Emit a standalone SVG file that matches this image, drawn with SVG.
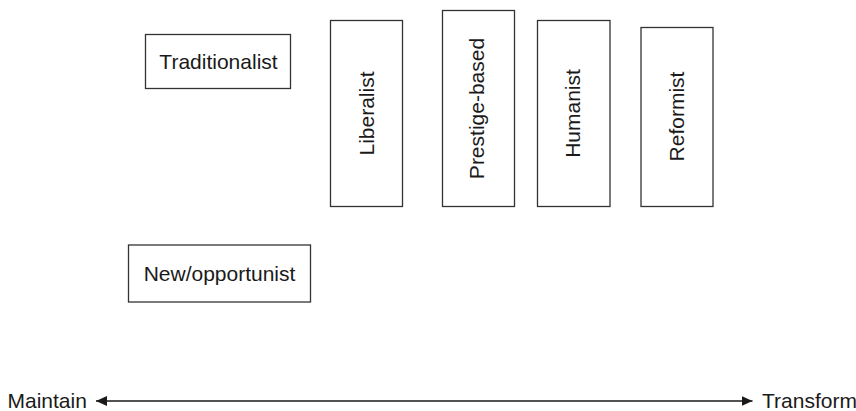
<svg xmlns="http://www.w3.org/2000/svg" width="856" height="411" viewBox="0 0 856 411">
  <style>
    .box { fill: #ffffff; stroke: #333333; stroke-width: 1.3; }
    .lbl { font-family: "Liberation Sans", Arial, sans-serif; font-size: 21px; fill: #1a1a1a; text-anchor: middle; }
    .end { font-family: "Liberation Sans", Arial, sans-serif; font-size: 21px; fill: #1a1a1a; }
    .axis { stroke: #1a1a1a; stroke-width: 1.3; fill: none; }
  </style>
  <defs>
    <marker id="arrow" markerUnits="userSpaceOnUse" markerWidth="12" markerHeight="11" refX="11" refY="5" orient="auto-start-reverse">
      <path d="M0,0 L11,5 L0,10 Z" fill="#1a1a1a"/>
    </marker>
  </defs>

  <g id="traditionalist">
    <rect class="box" x="145.5" y="34.5" width="145" height="54"/>
    <text class="lbl" x="218.5" y="69">Traditionalist</text>
  </g>
  <g id="liberalist">
    <rect class="box" x="330.5" y="20.5" width="72" height="186"/>
    <text class="lbl" transform="translate(366.5,113.5) rotate(-90)" y="7">Liberalist</text>
  </g>
  <g id="prestige-based">
    <rect class="box" x="442.5" y="10.5" width="72" height="196"/>
    <text class="lbl" transform="translate(478.5,108.5) rotate(-90)" y="5.5">Prestige-based</text>
  </g>
  <g id="humanist">
    <rect class="box" x="537.5" y="20.5" width="72.5" height="186"/>
    <text class="lbl" transform="translate(573.75,113.5) rotate(-90)" y="6.5">Humanist</text>
  </g>
  <g id="reformist">
    <rect class="box" x="641" y="27.5" width="72" height="179"/>
    <text class="lbl" transform="translate(677,116.5) rotate(-90)" y="7">Reformist</text>
  </g>
  <g id="new-opportunist">
    <rect class="box" x="128.5" y="245" width="182" height="57"/>
    <text class="lbl" x="219.5" y="281">New/opportunist</text>
  </g>

  <g id="connectors">
    <line class="axis" x1="96" y1="401" x2="752.5" y2="401" marker-start="url(#arrow)" marker-end="url(#arrow)"/>
  </g>
  <g id="axis-labels">
    <text class="end" x="7.5" y="408">Maintain</text>
    <text class="end" x="762" y="408">Transform</text>
  </g>
</svg>
